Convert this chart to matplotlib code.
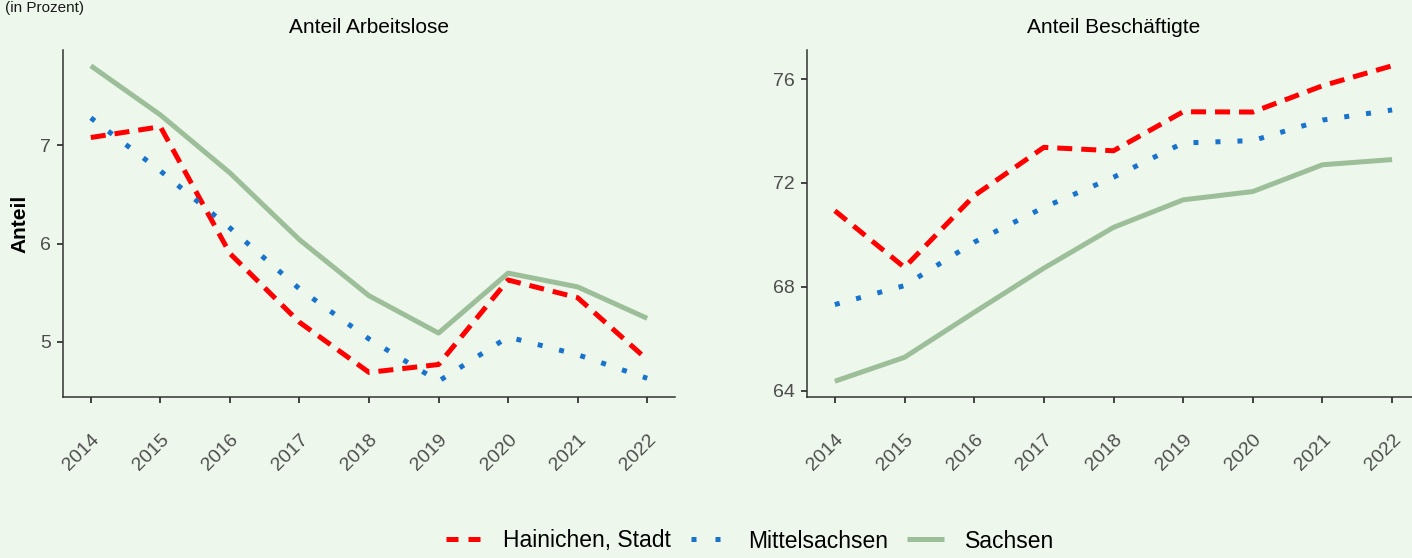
import numpy as np
import matplotlib
matplotlib.use("Agg")
import matplotlib.pyplot as plt
from matplotlib.lines import Line2D

# data
years = [2014, 2015, 2016, 2017, 2018, 2019, 2020, 2021, 2022]
regions = ["Hainichen, Stadt", "Mittelsachsen", "Sachsen"]
panel_titles = ["Anteil Arbeitslose", "Anteil Beschäftigte"]

arbeitslose_hainichen = [7.08, 7.19, 5.90, 5.20, 4.69, 4.77, 5.63, 5.45, 4.82]
arbeitslose_mittelsachsen = [7.28, 6.74, 6.16, 5.54, 5.03, 4.60, 5.05, 4.87, 4.63]
arbeitslose_sachsen = [7.81, 7.31, 6.72, 6.04, 5.47, 5.09, 5.70, 5.56, 5.24]

beschaeftigte_hainichen = [70.93, 68.75, 71.51, 73.37, 73.24, 74.74, 74.73, 75.74, 76.51]
beschaeftigte_mittelsachsen = [67.32, 68.05, 69.72, 71.06, 72.22, 73.54, 73.63, 74.42, 74.81]
beschaeftigte_sachsen = [64.37, 65.29, 67.02, 68.72, 70.29, 71.35, 71.67, 72.70, 72.90]

yticks_arbeitslose = [5, 6, 7]
yticks_beschaeftigte = [64, 68, 72, 76]

# styling
bg = "#EEF7EC"
colors = {"Hainichen, Stadt": "#FF0000", "Mittelsachsen": "#1873CC", "Sachsen": "#9CBF9A"}
dashes = {"Hainichen, Stadt": (0, (3.0, 1.8)), "Mittelsachsen": (0, (1, 3.4)), "Sachsen": "solid"}
legend_dashes = {"Hainichen, Stadt": (0, (2.4, 2.0)), "Mittelsachsen": (0, (1, 3.8)), "Sachsen": "solid"}
lw = 3.6

plt.rcParams["font.family"] = ["Liberation Sans", "DejaVu Sans"]

W, H = 1412, 558
fig = plt.figure(figsize=(W / 100, H / 100), dpi=100, facecolor=bg)

ax1 = fig.add_axes([63 / W, 1 - 397 / H, 612 / W, 347 / H])
ax2 = fig.add_axes([807 / W, 1 - 397 / H, 613 / W, 347 / H])

panels = [
    (ax1, [arbeitslose_hainichen, arbeitslose_mittelsachsen, arbeitslose_sachsen], yticks_arbeitslose),
    (ax2, [beschaeftigte_hainichen, beschaeftigte_mittelsachsen, beschaeftigte_sachsen], yticks_beschaeftigte),
]

for i, (ax, series, yticks) in enumerate(panels):
    ax.set_facecolor(bg)
    for name, vals in zip(regions, series):
        ax.plot(years, vals, color=colors[name], linestyle=dashes[name],
                linewidth=lw, solid_capstyle="butt", dash_capstyle="butt",
                solid_joinstyle="round")

    # ggplot-like 5% expansion
    allv = np.concatenate([np.array(s) for s in series])
    lo, hi = allv.min(), allv.max()
    pad = 0.05 * (hi - lo)
    ax.set_ylim(lo - pad, hi + pad)
    xpad = 0.05 * (years[-1] - years[0])
    ax.set_xlim(years[0] - xpad, years[-1] + xpad)

    ax.set_yticks(yticks)
    ax.set_xticks(years)
    ax.set_xticklabels([str(y) for y in years], rotation=45, ha="right", va="top",
                       rotation_mode="anchor")
    ax.tick_params(axis="both", colors="#333333", length=4.5, width=1.3,
                   labelsize=14, labelcolor="#4D4D4D")
    ax.tick_params(axis="y", pad=4)
    ax.tick_params(axis="x", pad=20)

    for side in ["top", "right"]:
        ax.spines[side].set_visible(False)
    for side in ["left", "bottom"]:
        ax.spines[side].set_color("#333333")
        ax.spines[side].set_linewidth(1.1)

    ax.set_title(panel_titles[i], fontsize=15, color="black", pad=12)

ax1.set_ylabel("Anteil", fontsize=15, fontweight="bold", labelpad=8)

# subtitle (only its lower edge shows in the reference)
fig.text(5 / W, 1 - 1 / H, "(in Prozent)", fontsize=11, ha="left", va="top",
         color="#1A1A1A")

handles = [Line2D([0], [0], color=colors[n], linestyle=legend_dashes[n], linewidth=lw,
                  dash_capstyle="butt", solid_capstyle="butt") for n in regions]
fig.legend(handles, regions, loc="center", bbox_to_anchor=(750 / W, 1 - 541 / H),
           ncol=3, frameon=False, fontsize=16.5, handlelength=1.6, handletextpad=0.9,
           columnspacing=0.85, borderpad=0)

fig.savefig("out.png", dpi=100, facecolor=bg)
